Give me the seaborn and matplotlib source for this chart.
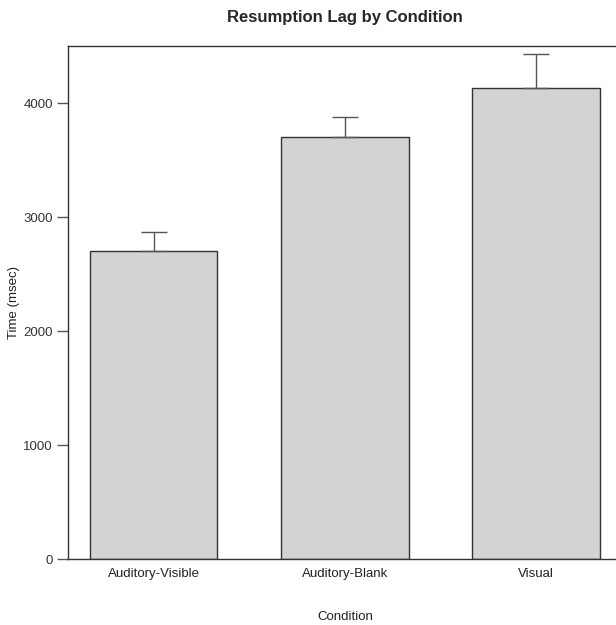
#!/usr/bin/env python3
"""
Resumption lag by condition - bar chart with upper error bars.
"""

import pandas as pd
import matplotlib
matplotlib.use("Agg")
import matplotlib.pyplot as plt
import seaborn as sns

# Data
conditions = ["Auditory-Visible", "Auditory-Blank", "Visual"]
mean_lag = [2700, 3700, 4135]
err_upper = [170, 180, 295]
y_ticks = [0, 1000, 2000, 3000, 4000]

df = pd.DataFrame({"condition": conditions, "lag": mean_lag})

sns.set_style("white")
plt.rcParams["font.family"] = ["Liberation Sans", "DejaVu Sans"]

fig = plt.figure(figsize=(6.16, 6.25), dpi=100)
ax = fig.add_axes([0.1104, 0.1056, 0.8993, 0.8208])

sns.barplot(data=df, x="condition", y="lag", order=conditions,
            color="#d3d3d3", saturation=1, width=0.667,
            edgecolor="#333333", linewidth=1.0, errorbar=None, ax=ax)

# upper-only error bars, R style
ax.errorbar(range(len(conditions)), mean_lag,
            yerr=[[0] * len(conditions), err_upper],
            fmt="none", ecolor="#555555", elinewidth=1.0,
            capsize=9.4, capthick=1.0)

ax.set_xlim(-0.448, 2.448)
ax.set_ylim(0, 4500)
ax.set_yticks(y_ticks)
ax.set_yticklabels([str(t) for t in y_ticks])

for side in ["left", "top", "bottom"]:
    ax.spines[side].set_visible(True)
    ax.spines[side].set_color("#333333")
    ax.spines[side].set_linewidth(1.0)
ax.spines["right"].set_visible(False)

ax.tick_params(axis="y", which="both", left=True, length=8, width=1,
               color="#555555", labelsize=9.5, labelcolor="#333333", pad=3)
ax.tick_params(axis="x", bottom=False, labelsize=9.5, labelcolor="#222222", pad=3)

ax.set_xlabel("Condition", fontsize=9.5, color="#222222", labelpad=22)
ax.set_ylabel("Time (msec)", fontsize=9.5, color="#222222", labelpad=2)
ax.set_title("Resumption Lag by Condition", fontsize=12, fontweight="bold",
             pad=17)

fig.savefig("out.png", dpi=100)
plt.close(fig)
